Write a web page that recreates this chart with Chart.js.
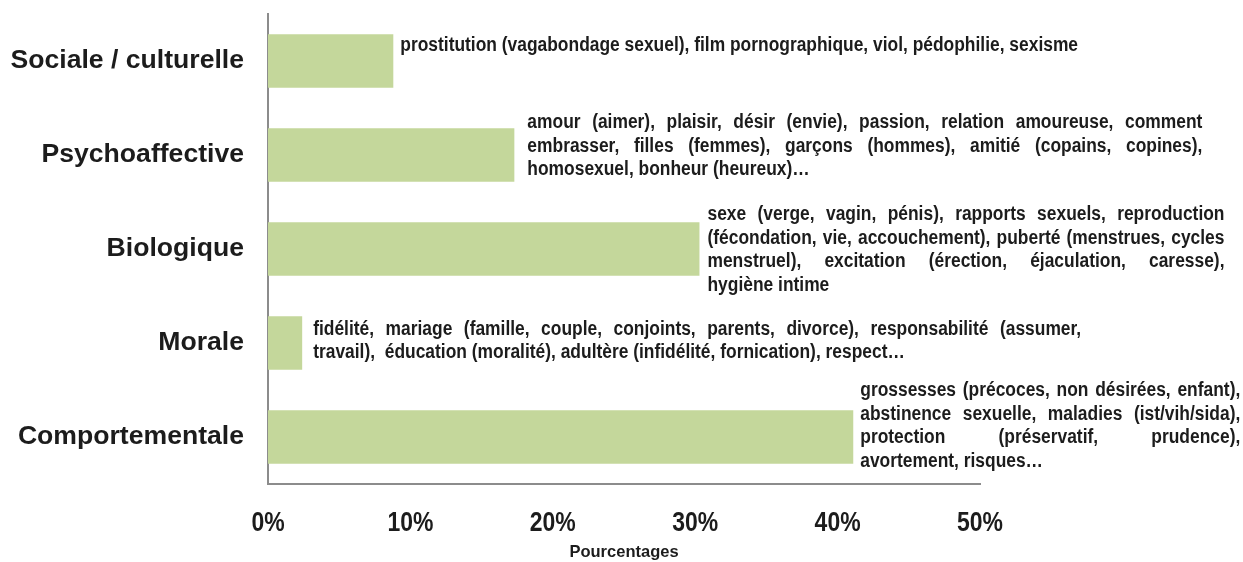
<!DOCTYPE html>
<html>
    <head>
        <meta charset="utf-8">
        <title>Dimensions</title>
        <script src="https://cdn.jsdelivr.net/npm/chart.js"></script>
        <style>
            body { margin: 0; background: #ffffff; }
            #chart { display: block; }
        </style>
    </head>
    <body>
        <canvas id="chart" width="1243" height="562"></canvas>
        <script>
            // data
            const categories = ['Sociale / culturelle', 'Psychoaffective', 'Biologique', 'Morale', 'Comportementale'];
            const values = [8.8, 17.3, 30.3, 2.4, 41.1];
            const xTicks = [0, 10, 20, 30, 40, 50];
            const notes = [
                ['prostitution (vagabondage sexuel), film pornographique, viol, pédophilie, sexisme'],
                ['amour (aimer), plaisir, désir (envie), passion, relation amoureuse, comment',
                 'embrasser, filles (femmes), garçons (hommes), amitié (copains, copines),',
                 'homosexuel, bonheur (heureux)…'],
                ['sexe (verge, vagin, pénis), rapports sexuels, reproduction',
                 '(fécondation, vie, accouchement), puberté (menstrues, cycles',
                 'menstruel), excitation (érection, éjaculation, caresse),',
                 'hygiène intime'],
                ['fidélité, mariage (famille, couple, conjoints, parents, divorce), responsabilité (assumer,',
                 'travail),  éducation (moralité), adultère (infidélité, fornication), respect…'],
                ['grossesses (précoces, non désirées, enfant),',
                 'abstinence sexuelle, maladies (ist/vih/sida),',
                 'protection (préservatif, prudence),',
                 'avortement, risques…']
            ];

            const FONT = '"Liberation Sans", Arial, sans-serif';
            const SQUEEZE = 0.82; // no narrow face installed, so squeeze the normal one
            const INK = '#1c1c1c';

            // text placement beside each bar: gap after bar end, justify width, vertical shift
            const noteStyle = [
                { gap: 7, width: 0, dy: -16 },
                { gap: 13, width: 675, dy: -9 },
                { gap: 8, width: 517, dy: 1 },
                { gap: 11, width: 768, dy: -2 },
                { gap: 7, width: 380, dy: -11 }
            ];

            function narrowText(ctx, text, x, y, sq) {
                ctx.save();
                ctx.translate(x, y);
                ctx.scale(sq, 1);
                ctx.fillText(text, 0, 0);
                ctx.restore();
            }

            const notesPlugin = {
                id: 'notes',
                afterDatasetsDraw(chart) {
                    const ctx = chart.ctx;
                    const meta = chart.getDatasetMeta(0);
                    const lh = 23.5;
                    const sq = 0.87;
                    ctx.save();
                    ctx.font = 'bold 20px ' + FONT;
                    ctx.fillStyle = INK;
                    ctx.textBaseline = 'middle';
                    ctx.textAlign = 'left';
                    meta.data.forEach((bar, i) => {
                        const lines = notes[i];
                        const st = noteStyle[i];
                        const x0 = bar.x + st.gap;
                        const y0 = bar.y + st.dy - (lines.length - 1) * lh / 2;
                        lines.forEach((line, j) => {
                            const y = y0 + j * lh;
                            const last = j === lines.length - 1;
                            if (!st.width || last) {
                                narrowText(ctx, line, x0, y, sq);
                                return;
                            }
                            const words = line.split(/\s+/);
                            const ws = words.map(w => ctx.measureText(w).width * sq);
                            const total = ws.reduce((a, b) => a + b, 0);
                            const space = (st.width - total) / (words.length - 1);
                            let x = x0;
                            words.forEach((w, k) => {
                                narrowText(ctx, w, x, y, sq);
                                x += ws[k] + space;
                            });
                        });
                    });
                    ctx.restore();
                },
                afterDraw(chart) {
                    // x tick labels, placed with the x scale
                    const ctx = chart.ctx;
                    const xs = chart.scales.x;
                    ctx.save();
                    ctx.font = 'bold 28px ' + FONT;
                    ctx.fillStyle = INK;
                    ctx.textBaseline = 'middle';
                    ctx.textAlign = 'center';
                    xTicks.forEach(v => {
                        narrowText(ctx, v + '%', xs.getPixelForValue(v), xs.top + 39, SQUEEZE);
                    });
                    ctx.restore();
                }
            };

            const ctx = document.getElementById('chart').getContext('2d');
            new Chart(ctx, {
                type: 'bar',
                data: {
                    labels: categories,
                    datasets: [{
                        data: values,
                        backgroundColor: '#c4d79b',
                        borderWidth: 0,
                        categoryPercentage: 1,
                        barPercentage: 0.57
                    }]
                },
                options: {
                    indexAxis: 'y',
                    responsive: false,
                    animation: false,
                    layout: { padding: { top: 14, right: 263, left: 0, bottom: 0 } },
                    plugins: {
                        legend: { display: false },
                        tooltip: { enabled: false }
                    },
                    scales: {
                        x: {
                            min: 0,
                            max: 50,
                            afterBuildTicks: (scale) => { scale.ticks = xTicks.map(v => ({ value: v })); },
                            afterFit: (scale) => { scale.height = 78; scale.paddingLeft = 0; scale.paddingRight = 0; },
                            grid: { display: false, drawTicks: false },
                            border: { display: true, color: '#8c8c8c', width: 2 },
                            ticks: { display: false },
                            title: {
                                display: true,
                                text: 'Pourcentages',
                                color: INK,
                                padding: { top: 0, bottom: 0 },
                                font: { family: FONT, size: 16.5, weight: 'bold' }
                            }
                        },
                        y: {
                            afterFit: (scale) => { scale.width = 268; scale.paddingTop = 0; scale.paddingBottom = 0; },
                            grid: { display: false, drawTicks: false },
                            border: { display: true, color: '#8c8c8c', width: 2 },
                            ticks: {
                                color: INK,
                                padding: 24,
                                font: { family: FONT, size: 26.6, weight: 'bold' }
                            }
                        }
                    }
                },
                plugins: [notesPlugin]
            });
        </script>
    </body>
</html>
